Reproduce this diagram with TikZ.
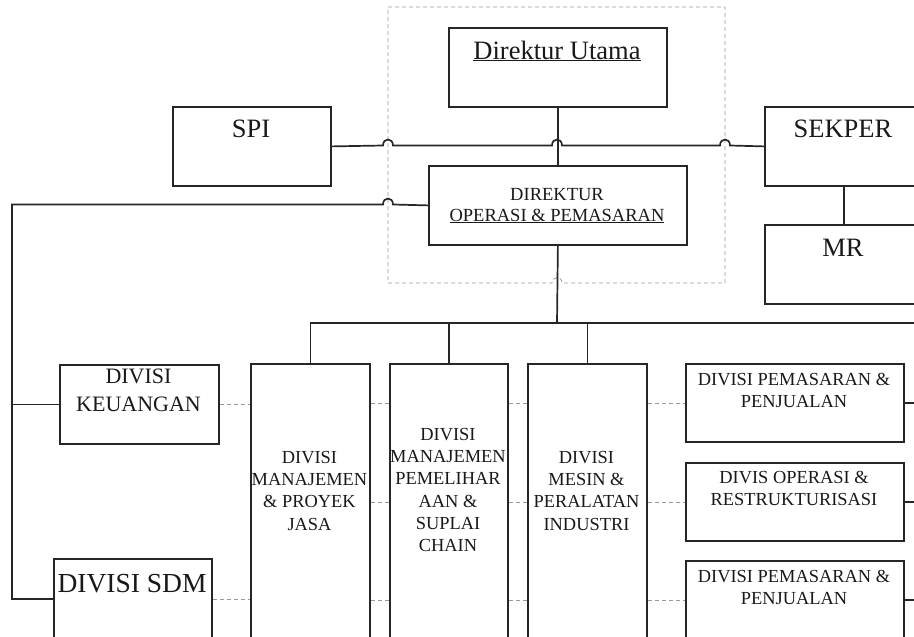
\documentclass[tikz,border=0pt]{standalone}
\usepackage{fontspec}
\setmainfont{Liberation Serif}
\begin{document}
\begin{tikzpicture}[x=1pt,y=-1pt,
  box/.style={draw=black!85, line width=1.8pt, fill=white, inner sep=0pt, anchor=north west},
  conn/.style={draw=black!85, line width=1.7pt},
  guide/.style={draw=black!40, line width=0.8pt, dash pattern=on 4pt off 3pt},
  txt/.style={inner sep=0pt, align=center, text=black!90},
  big/.style={font=\fontsize{26.5}{31}\selectfont},
  mid/.style={font=\fontsize{18.4}{22.3}\selectfont},
]
\useasboundingbox (0,0) rectangle (914,637);
\clip (0,0) rectangle (914,637);

% dashed frame around directors
\draw[guide] (388,7) -- (725,7) -- (725,283) -- (562,283)
  .. controls (562,276) and (552,276) .. (552,283) -- (388,283) -- cycle;

% boxes
\node[box, minimum width=218pt, minimum height=79pt] (du) at (448,27) {};
\node[box, minimum width=258pt, minimum height=79pt] (dop) at (428,165) {};
\node[box, minimum width=158pt, minimum height=79pt] (spi) at (172,106) {};
\node[box, minimum width=158pt, minimum height=79pt] (sekper) at (764,106) {};
\node[box, minimum width=158pt, minimum height=79pt] (mr) at (764,224) {};
\node[box, minimum width=159pt, minimum height=79pt] (keu) at (59,364) {};
\node[box, minimum width=158pt, minimum height=80pt] (sdm) at (53,558) {};
\node[box, minimum width=119pt, minimum height=290pt] (c1) at (250,363) {};
\node[box, minimum width=118pt, minimum height=290pt] (c2) at (389,363) {};
\node[box, minimum width=119pt, minimum height=290pt] (c3) at (527,363) {};
\node[box, minimum width=218pt, minimum height=78pt] (rb1) at (685,363) {};
\node[box, minimum width=218pt, minimum height=78pt] (rb2) at (685,462) {};
\node[box, minimum width=218pt, minimum height=78pt] (rb3) at (685,560) {};

% helper coordinates
\coordinate (jl) at (388,145.5);
\coordinate (jm) at (557,145.5);
\coordinate (jr) at (725,145.5);
\coordinate (jo) at (388,204.5);
\coordinate (lft) at (12,204.5);
\coordinate (bus) at (557,323);
\coordinate (busR) at (914,323);

% top connectors
\draw[conn] (du.south) -- (dop.north);
\draw[conn] (spi.east) -- ([xshift=-5pt]jl)
  .. controls ([xshift=-5pt,yshift=8pt]jl) and ([xshift=5pt,yshift=8pt]jl) .. ([xshift=5pt]jl)
  -- ([xshift=-5pt]jm)
  .. controls ([xshift=-5pt,yshift=8pt]jm) and ([xshift=5pt,yshift=8pt]jm) .. ([xshift=5pt]jm)
  -- ([xshift=-5pt]jr)
  .. controls ([xshift=-5pt,yshift=8pt]jr) and ([xshift=5pt,yshift=8pt]jr) .. ([xshift=5pt]jr)
  -- (sekper.west);
\draw[conn] (sekper.south) -- (mr.north);
\draw[conn] (dop.west) -- ([xshift=5pt]jo)
  .. controls ([xshift=5pt,yshift=8pt]jo) and ([xshift=-5pt,yshift=8pt]jo) .. ([xshift=-5pt]jo)
  -- (lft) -- (lft |- sdm.west) -- (sdm.west);
\draw[conn] (lft |- keu.west) -- (keu.west);

% bus
\draw[conn] (dop.south) -- (bus);
\draw[conn] (c1.north |- bus) -- (busR);
\draw[conn] (c1.north |- bus) -- (c1.north);
\draw[conn] (c2.north |- bus) -- (c2.north);
\draw[conn] (c3.north |- bus) -- (c3.north);

% right stubs
\draw[conn] (rb1.east) -- (rb1.east -| busR);
\draw[conn] (rb2.east) -- (rb2.east -| busR);
\draw[conn] (rb3.east) -- (rb3.east -| busR);

% dashed coordination lines
\draw[guide] (keu.east) -- (keu.east -| c1.west);
\draw[guide] (c1.east |- rb1.west) -- (c2.west |- rb1.west);
\draw[guide] (c2.east |- rb1.west) -- (c3.west |- rb1.west);
\draw[guide] (c3.east |- rb1.west) -- (rb1.west);
\draw[guide] (c1.east |- rb2.west) -- (c2.west |- rb2.west);
\draw[guide] (c2.east |- rb2.west) -- (c3.west |- rb2.west);
\draw[guide] (c3.east |- rb2.west) -- (rb2.west);
\draw[guide] (sdm.east) -- (sdm.east -| c1.west);
\draw[guide] (c1.east |- rb3.west) -- (c2.west |- rb3.west);
\draw[guide] (c2.east |- rb3.west) -- (c3.west |- rb3.west);
\draw[guide] (c3.east |- rb3.west) -- (rb3.west);

% texts
\node[txt, big, anchor=base] (du-t) at (557,59) {\underline{Direktur Utama}};
\node[txt, font=\fontsize{18.5}{21}\selectfont, anchor=north] (dop-t) at (557,187.8)
  {DIREKTUR\\\underline{OPERASI \& PEMASARAN}};
\node[txt, big, anchor=base] (spi-t) at (251,137) {SPI};
\node[txt, big, anchor=base] (sekper-t) at (843,137) {SEKPER};
\node[txt, big, anchor=base] (mr-t) at (843,256) {MR};
\node[txt, font=\fontsize{22}{28}\selectfont, anchor=north] (keu-t) at (138.5,368.4) {DIVISI\\KEUANGAN};
\node[txt, font=\fontsize{27.5}{32}\selectfont, anchor=base] (sdm-t) at (132,592) {DIVISI SDM};
\node[txt, mid, anchor=north] (c1-t) at (309.5,450.9) {DIVISI\\MANAJEMEN\\\& PROYEK\\JASA};
\node[txt, mid, anchor=north] (c2-t) at (448,427.9) {DIVISI\\MANAJEMEN\\PEMELIHAR\\AAN \&\\SUPLAI\\CHAIN};
\node[txt, mid, anchor=north] (c3-t) at (586.5,450.9) {DIVISI\\MESIN \&\\PERALATAN\\INDUSTRI};
\node[txt, mid, anchor=north] (rb1-t) at (794,372.8) {DIVISI PEMASARAN \&\\PENJUALAN};
\node[txt, mid, anchor=north] (rb2-t) at (794,470.8) {DIVIS OPERASI \&\\RESTRUKTURISASI};
\node[txt, mid, anchor=north] (rb3-t) at (794,569.8) {DIVISI PEMASARAN \&\\PENJUALAN};
\end{tikzpicture}
\end{document}
